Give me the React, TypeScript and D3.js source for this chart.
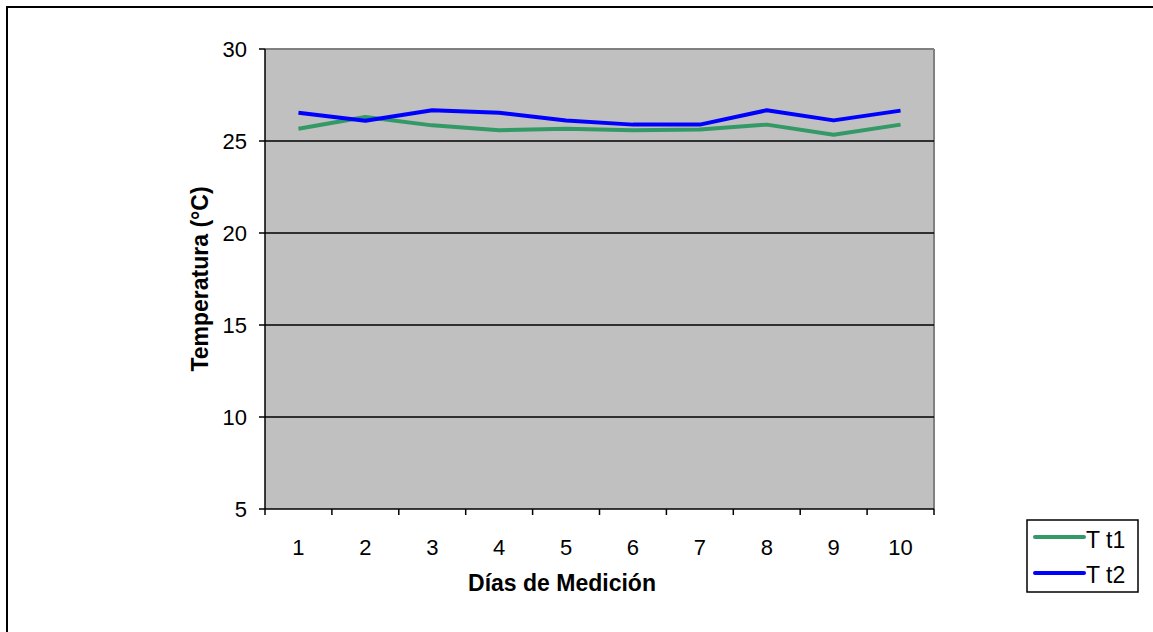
import React from "react";
import * as d3 from "d3";

const categories = ["1", "2", "3", "4", "5", "6", "7", "8", "9", "10"];
const seriesT1 = [25.67, 26.3, 25.85, 25.58, 25.67, 25.58, 25.63, 25.89, 25.34, 25.89];
const seriesT2 = [26.54, 26.1, 26.67, 26.54, 26.12, 25.89, 25.89, 26.67, 26.12, 26.65];
const yTicks = [5, 10, 15, 20, 25, 30];
const seriesNames = ["T t1", "T t2"];
const seriesColors = ["#339966", "#0000FF"];

export default function App() {
  const W = 1153, H = 632;
  const left = 265, right = 934, top = 49, bottom = 509;
  const x = d3.scaleBand().domain(categories).range([left, right]);
  const y = d3.scaleLinear().domain([5, 30]).range([bottom, top]);
  const line = d3
    .line<number>()
    .x((_, i) => (x(categories[i]) as number) + x.bandwidth() / 2)
    .y((d) => y(d));
  const font = "'Liberation Sans', Arial, sans-serif";
  const all = [seriesT1, seriesT2];
  return (
    <svg width={W} height={H} style={{ position: "absolute", left: 0, top: 0 }} fontFamily={font}>
      <rect x={0} y={0} width={W} height={H} fill="#fff" />
      <rect x={7} y={7} width={W + 20} height={H + 20} fill="none" stroke="#000" strokeWidth={2} />
      <rect x={left} y={top} width={right - left} height={bottom - top} fill="#c0c0c0" />
      <line x1={left} x2={right} y1={top} y2={top} stroke="#808080" strokeWidth={2} />
      <line x1={right} x2={right} y1={top} y2={bottom} stroke="#808080" strokeWidth={2} />
      {yTicks.filter((t) => t !== 5 && t !== 30).map((t) => (
        <line key={t} x1={left} x2={right} y1={y(t)} y2={y(t)} stroke="#000" strokeWidth={1.5} />
      ))}
      {all.map((s, i) => (
        <path key={i} d={line(s) || ""} fill="none" stroke={seriesColors[i]} strokeWidth={4} strokeLinejoin="round" />
      ))}
      <line x1={left} x2={left} y1={top} y2={bottom} stroke="#000" strokeWidth={1.5} />
      <line x1={left} x2={right} y1={bottom} y2={bottom} stroke="#000" strokeWidth={1.5} />
      {yTicks.map((t) => (
        <g key={t}>
          <line x1={left - 6} x2={left} y1={y(t)} y2={y(t)} stroke="#000" strokeWidth={1.5} />
          <text x={247} y={y(t)} dy="0.35em" textAnchor="end" fontSize={22}>{t}</text>
        </g>
      ))}
      {categories.map((c) => (
        <line key={"t" + c} x1={x(c) as number} x2={x(c) as number} y1={bottom} y2={bottom + 6} stroke="#000" strokeWidth={1.5} />
      ))}
      <line x1={right} x2={right} y1={bottom} y2={bottom + 6} stroke="#000" strokeWidth={1.5} />
      {categories.map((c) => (
        <text key={"l" + c} x={(x(c) as number) + x.bandwidth() / 2} y={555} textAnchor="middle" fontSize={22}>{c}</text>
      ))}
      <text x={562} y={591} textAnchor="middle" fontSize={23} fontWeight="bold">Días de Medición</text>
      <text transform={`translate(208,${(top + bottom) / 2}) rotate(-90)`} textAnchor="middle" fontSize={23} fontWeight="bold">Temperatura (°C)</text>
      <rect x={1027} y={520} width={111} height={72} fill="#fff" stroke="#000" strokeWidth={1.5} />
      {seriesNames.map((n, i) => (
        <g key={n}>
          <line x1={1035} x2={1084} y1={537 + i * 36} y2={537 + i * 36} stroke={seriesColors[i]} strokeWidth={4} strokeLinecap="round" />
          <text x={1086} y={548 + i * 35} fontSize={23}>{n}</text>
        </g>
      ))}
    </svg>
  );
}
